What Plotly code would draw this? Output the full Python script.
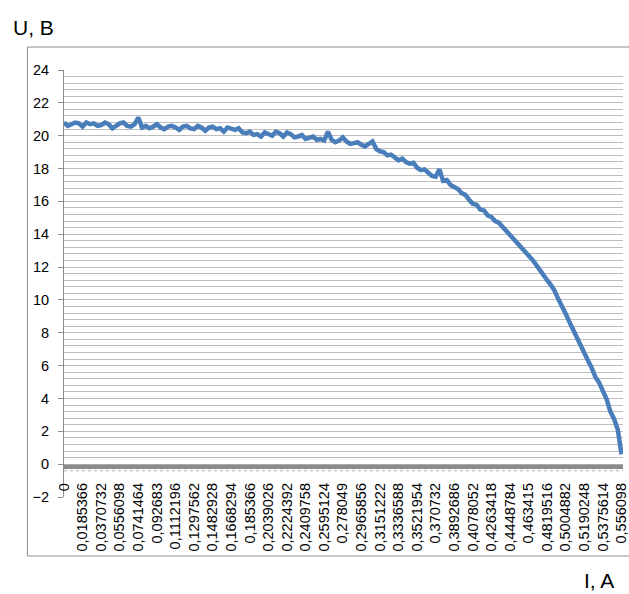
import plotly.graph_objects as go

# Tick labels of the current axis (I, A) - every 5th category
current_labels = ["0", "0,0185366", "0,0370732", "0,0556098", "0,0741464", "0,092683",
                  "0,1112196", "0,1297562", "0,1482928", "0,1668294", "0,185366",
                  "0,2039026", "0,2224392", "0,2409758", "0,2595124", "0,278049",
                  "0,2965856", "0,3151222", "0,3336588", "0,3521954", "0,370732",
                  "0,3892686", "0,4078052", "0,4263418", "0,4448784", "0,463415",
                  "0,4819516", "0,5004882", "0,5190248", "0,5375614", "0,556098"]

# Voltage values U, B (one per category)
voltage = [
    20.8, 20.6, 20.7, 20.8, 20.75, 20.55, 20.8, 20.7, 20.75, 20.6,
    20.65, 20.8, 20.7, 20.45, 20.6, 20.75, 20.8, 20.6, 20.55, 20.7,
    21.1, 20.5, 20.6, 20.45, 20.55, 20.7, 20.5, 20.4, 20.55, 20.6,
    20.5, 20.35, 20.55, 20.6, 20.45, 20.4, 20.6, 20.5, 20.3, 20.5,
    20.55, 20.4, 20.45, 20.25, 20.5, 20.4, 20.35, 20.45, 20.2, 20.15,
    20.25, 20.05, 20.1, 19.95, 20.2, 20.1, 20.0, 20.25, 20.15, 19.95,
    20.2, 20.1, 19.9, 19.95, 20.05, 19.8, 19.85, 19.95, 19.75, 19.8,
    19.7, 20.25, 19.75, 19.6, 19.7, 19.9, 19.65, 19.5, 19.55, 19.6,
    19.45, 19.35, 19.5, 19.65, 19.2, 19.05, 19.0, 18.8, 18.85, 18.65,
    18.5, 18.6, 18.4, 18.3, 18.35, 18.05, 17.9, 17.95, 17.7, 17.55,
    17.5, 17.95, 17.25, 17.3, 17.0, 16.9, 16.75, 16.5, 16.4, 16.1,
    15.85, 15.8, 15.5, 15.45, 15.15, 15.05, 14.8, 14.7, 14.4, 14.2,
    13.95, 13.7, 13.45, 13.3, 12.95, 12.75, 12.45, 12.15, 11.8, 11.55,
    11.2, 10.9, 10.55, 10.05, 9.65, 9.15, 8.65, 8.15, 7.65, 7.25,
    6.75, 6.3, 5.85, 5.3, 4.95, 4.4, 3.95, 3.2, 2.75, 2.1, 0.6,
]

label_step = 5
n = len(voltage)
x_idx = list(range(n))
tick_pos = [i * label_step for i in range(len(current_labels))]

y_min, y_max = -2, 24
grid_vals = [round(0.4 * k, 1) for k in range(1, 61)]

PW = 565  # plot width in px
PH = 427  # plot height in px

fig = go.Figure()
fig.add_trace(go.Scatter(x=x_idx, y=voltage, mode="lines",
                         line=dict(color="#4a7ebb", width=4.5), showlegend=False,
                         hoverinfo="skip"))

axis_pos = (0 - y_min) / (y_max - y_min)

fig.update_layout(
    width=629, height=594,
    margin=dict(l=64, r=0, t=70, b=97),
    paper_bgcolor="white", plot_bgcolor="white",
    font=dict(family="Liberation Sans, Arial, sans-serif", color="#000000"),
    xaxis=dict(range=[0, n - 1 + 0.4], tickmode="array", tickvals=tick_pos,
               ticktext=current_labels, tickangle=-90, showgrid=False,
               zeroline=False, showline=False, ticks="",
               anchor="free", position=axis_pos,
               ticklabeloverflow="allow",
               tickfont=dict(size=14.5, family="Liberation Sans, Arial, sans-serif"),
               ticklabelstandoff=15),
    yaxis=dict(range=[y_min, y_max], dtick=2, tick0=0, showgrid=False,
               zeroline=False, showline=True, linecolor="#8c8c8c", linewidth=1,
               ticks="outside", ticklen=5, tickcolor="#8c8c8c",
               ticklabelstandoff=6,
               tickfont=dict(size=14.5, family="Liberation Sans, Arial, sans-serif"),
               minor=dict(tickmode="array", tickvals=grid_vals, showgrid=True,
                          gridcolor="#bdbdbd", gridwidth=1, ticks="")),
)

shapes = []
# gray band of dense category ticks at zero
shapes.append(dict(type="rect", xref="paper", yref="y", x0=0, x1=1, y0=-0.3, y1=0.0,
                   fillcolor="#8c8c8c", line=dict(width=0), layer="between"))
shapes.append(dict(type="line", xref="paper", yref="y", x0=0, x1=1, y0=-0.4, y1=-0.4,
                   line=dict(color="#b0b0b0", width=1, dash="dot"), layer="between"))
# outer chart border
shapes.append(dict(type="rect", xref="paper", yref="paper",
                   x0=(27 - 64) / PW, x1=(660 - 64) / PW,
                   y0=(497 - 556) / PH, y1=(497 - 47) / PH,
                   line=dict(color="#8c8c8c", width=1), fillcolor="rgba(0,0,0,0)",
                   layer="below"))
fig.update_layout(shapes=shapes)

fig.add_annotation(text="U, B", xref="paper", yref="paper",
                   x=(33 - 64) / PW, y=(497 - 27) / PH, showarrow=False,
                   xanchor="center", yanchor="middle",
                   font=dict(size=21, family="Liberation Sans, Arial, sans-serif"))
fig.add_annotation(text="I, A", xref="paper", yref="paper",
                   x=(605 - 64) / PW, y=(497 - 580) / PH, showarrow=False,
                   xanchor="center", yanchor="middle",
                   font=dict(size=21, family="Liberation Sans, Arial, sans-serif"))

fig.write_html("out.html")
